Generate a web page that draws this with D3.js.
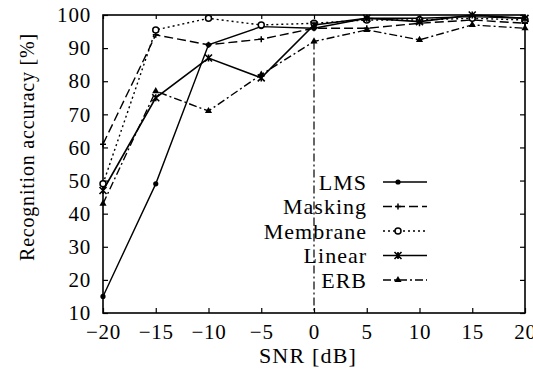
<!DOCTYPE html>
<html><head><meta charset="utf-8">
<script src="https://cdn.jsdelivr.net/npm/d3@7"></script>
<style>body{margin:0;background:#fff}svg{display:block}</style>
</head><body><svg id="c" width="533" height="380"></svg>
<script>
const snr = [-20, -15, -10, -5, 0, 5, 10, 15, 20];
const lms      = [15, 49, 91, 96.5, 96, 99, 99, 99.5, 99];
const masking  = [61, 94, 91, 92.7, 96, 96, 97.5, 98.5, 97.5];
const membrane = [49, 95.5, 99, 97, 97.5, 98.5, 98.5, 99, 98.5];
const linear   = [47, 75, 87, 81, 97, 99, 98, 100, 99];
const erb      = [43, 77, 71, 82, 92, 95.5, 92.5, 97, 96];
const yTicks = [10, 20, 30, 40, 50, 60, 70, 80, 90, 100];
const xTicks = [-20, -15, -10, -5, 0, 5, 10, 15, 20];
const names = ["LMS", "Masking", "Membrane", "Linear", "ERB"];

const series = [
  {name: names[0], v: lms, dash: null, w: 1.4, marker: "dot"},
  {name: names[1], v: masking, dash: "9,4", w: 1.4, marker: "plus"},
  {name: names[2], v: membrane, dash: "2,3", w: 1.4, marker: "open"},
  {name: names[3], v: linear, dash: null, w: 1.6, marker: "star"},
  {name: names[4], v: erb, dash: "8,3,2,3", w: 1.4, marker: "tri"}
];

const svg = d3.select("#c");
const m = {l: 103, r: 8, t: 15, b: 67};
const W = 533, H = 380;
const x = d3.scaleLinear().domain([-20, 20]).range([m.l, W - m.r]);
const y = d3.scaleLinear().domain([10, 100]).range([H - m.b, m.t]);
const font = "'Liberation Serif', 'DejaVu Serif', serif";

// frame
svg.append("rect").attr("x", x(-20)).attr("y", y(100))
  .attr("width", x(20) - x(-20)).attr("height", y(10) - y(100))
  .attr("fill", "none").attr("stroke", "#000").attr("stroke-width", 1.6);

// axes with inward ticks
const gx = svg.append("g").attr("transform", `translate(0,${y(10)})`)
  .call(d3.axisBottom(x).tickValues(xTicks).tickSizeInner(-5).tickSizeOuter(0).tickPadding(11));
const gy = svg.append("g").attr("transform", `translate(${x(-20)},0)`)
  .call(d3.axisLeft(y).tickValues(yTicks).tickSizeInner(-5).tickSizeOuter(0).tickPadding(12));
const gr = svg.append("g").attr("transform", `translate(${x(20)},0)`)
  .call(d3.axisRight(y).tickValues(yTicks).tickSizeInner(-5).tickSizeOuter(0).tickFormat(""));
const gt = svg.append("g").attr("transform", `translate(0,${y(100)})`)
  .call(d3.axisTop(x).tickValues(xTicks).tickSizeInner(-4).tickSizeOuter(0).tickFormat(""));
[gx, gy, gr, gt].forEach(g => {
  g.select(".domain").remove();
  g.selectAll("line").attr("stroke", "#000").attr("stroke-width", 1.2);
  g.selectAll("text").attr("font-family", font).attr("font-size", 21)
    .attr("letter-spacing", 0.8).attr("fill", "#000");
});
gy.selectAll("text").attr("dx", "0");

// vertical dash-dot line at 0 dB
svg.append("line").attr("x1", x(0)).attr("x2", x(0))
  .attr("y1", y(erb[4])).attr("y2", y(10))
  .attr("stroke", "#000").attr("stroke-width", 1.2).attr("stroke-dasharray", "8,3,2,3");

const line = d3.line().x((d, i) => x(snr[i])).y(d => y(d));

function drawMarker(g, type, cx, cy) {
  if (type === "dot") g.append("circle").attr("cx", cx).attr("cy", cy).attr("r", 2.6).attr("fill", "#000");
  else if (type === "plus") g.append("path").attr("d", `M${cx-3},${cy}H${cx+3}M${cx},${cy-3}V${cy+3}`).attr("stroke", "#000").attr("stroke-width", 1.5);
  else if (type === "open") g.append("circle").attr("cx", cx).attr("cy", cy).attr("r", 3).attr("fill", "#fff").attr("stroke", "#000").attr("stroke-width", 1.5);
  else if (type === "star") g.append("path").attr("d", `M${cx-3.5},${cy-3.5}L${cx+3.5},${cy+3.5}M${cx-3.5},${cy+3.5}L${cx+3.5},${cy-3.5}M${cx},${cy-3.5}V${cy+3.5}`).attr("stroke", "#000").attr("stroke-width", 1.6);
  else if (type === "tri") g.append("path").attr("d", d3.symbol(d3.symbolTriangle, 22)()).attr("transform", `translate(${cx},${cy})`).attr("fill", "#000");
}

series.forEach(s => {
  const g = svg.append("g");
  g.append("path").attr("d", line(s.v)).attr("fill", "none").attr("stroke", "#000")
    .attr("stroke-width", s.w).attr("stroke-dasharray", s.dash);
  s.v.forEach((d, i) => drawMarker(g, s.marker, x(snr[i]), y(d)));
});

// legend
const lg = svg.append("g");
series.forEach((s, i) => {
  const yy = 182 + i * 24.5;
  lg.append("text").attr("x", 367).attr("y", yy).attr("dy", "0.35em").attr("text-anchor", "end")
    .attr("font-family", font).attr("font-size", 22).attr("letter-spacing", 1).text(s.name);
  lg.append("line").attr("x1", 383).attr("x2", 427).attr("y1", yy).attr("y2", yy)
    .attr("stroke", "#000").attr("stroke-width", s.w).attr("stroke-dasharray", s.dash);
  drawMarker(lg, s.marker, 398, yy);
});

// axis titles
svg.append("text").attr("x", 308).attr("y", 355).attr("dy", "0.35em").attr("text-anchor", "middle")
  .attr("font-family", font).attr("font-size", 22).attr("letter-spacing", 1.2).text("SNR [dB]");
svg.append("text").attr("transform", "translate(27,147) rotate(-90)").attr("dy", "0.35em")
  .attr("text-anchor", "middle").attr("font-family", font).attr("font-size", 20)
  .attr("letter-spacing", 0.8).text("Recognition accuracy [%]");
</script></body></html>
